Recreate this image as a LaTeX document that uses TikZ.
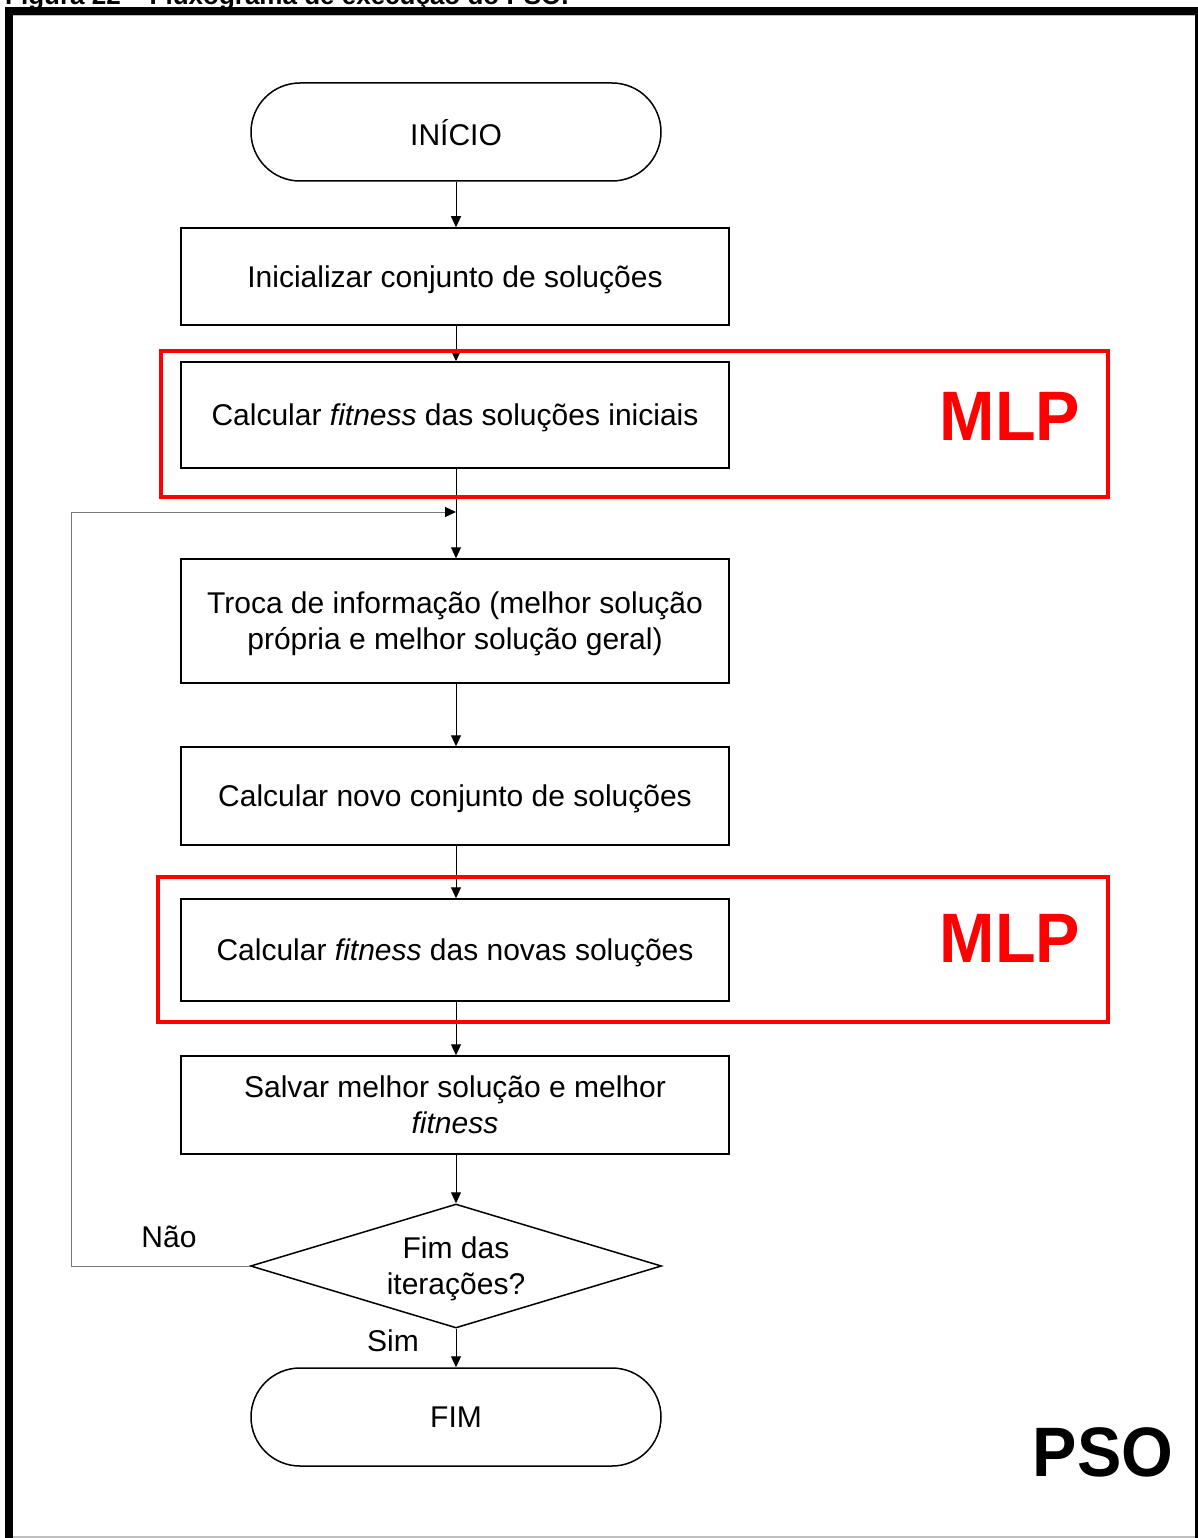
\documentclass[tikz,border=0pt]{standalone}
\usepackage{fontspec}
\setmainfont{Liberation Sans}
\usetikzlibrary{arrows.meta,shapes.geometric}
\definecolor{loopgray}{RGB}{120,120,120}
\definecolor{mlpred}{RGB}{255,0,0}
\tikzset{
  base/.style={font=\fontsize{30}{36}\selectfont, align=center, inner sep=0pt, text depth=0pt},
  procbox/.style={base, draw=black, line width=1.5pt, fill=white, minimum width=548pt},
  term/.style={base, draw=black, line width=1.5pt, fill=white, rounded corners=49pt, minimum width=410pt, minimum height=98pt},
  decis/.style={base, draw=black, line width=1.5pt, fill=white, shape=diamond, shape aspect=3.3, minimum width=411pt, minimum height=124pt},
  conn/.style={line width=1pt, black, -{Triangle[length=11pt,width=10pt]}},
  loopconn/.style={line width=1pt, loopgray, -{Triangle[length=11pt,width=10pt,color=black]}},
  redframe/.style={draw=mlpred, line width=4.5pt, inner sep=0pt},
  bigtag/.style={font=\fontsize{70}{70}\selectfont\bfseries, inner sep=0pt, xscale=0.95},
  lbl/.style={font=\fontsize{30}{36}\selectfont, inner sep=0pt}
}
\begin{document}
\begin{tikzpicture}[x=1pt,y=-1pt]
\useasboundingbox (0,0) rectangle (1198,1538);
% caption (cut off at top, as in the reference)
\node[anchor=base west, inner sep=0pt, font=\fontsize{26}{30}\selectfont\bfseries] (cap) at (5,5) {Figura 22 -- Fluxograma de execução do PSO.};
% frame
\fill[black] (5,7) rectangle (1198,15);
\fill[black] (5,7) rectangle (13,1538);
\fill[black] (1195,7) rectangle (1198,1538);
\draw[gray!50, line width=1pt] (13,15.5) -- (1195,15.5);
\draw[gray!50, line width=1.5pt] (13,1537) -- (1195,1537);

% nodes
\node[term] (start) at (456,132) {INÍCIO};
\node[procbox, minimum height=97pt] (init) at (455,276.5) {Inicializar conjunto de soluções};
\node[procbox, minimum height=106pt] (fit0) at (455,415) {Calcular \textit{fitness} das soluções iniciais};
\node[procbox, minimum height=124pt] (troca) at (455,621) {Troca de informação (melhor solução\\própria e melhor solução geral)};
\node[procbox, minimum height=98pt] (novo) at (455,796) {Calcular novo conjunto de soluções};
\node[procbox, minimum height=102pt] (fit1) at (455,950) {Calcular \textit{fitness} das novas soluções};
\node[procbox, minimum height=98pt] (salvar) at (455,1105) {Salvar melhor solução e melhor\\\textit{fitness}};
\node[decis] (dec) at (456,1266) {Fim das\\iterações?};
\node[term] (fim) at (456,1417) {FIM};

% connectors
\draw[conn] (start.south -| 456,0) -- (init.north -| 456,0);
\draw[conn] (init.south -| 456,0) -- (fit0.north -| 456,0);
\draw[conn] (fit0.south -| 456,0) -- (troca.north -| 456,0);
\draw[conn] (troca.south -| 456,0) -- (novo.north -| 456,0);
\draw[conn] (novo.south -| 456,0) -- (fit1.north -| 456,0);
\draw[conn] (fit1.south -| 456,0) -- (salvar.north -| 456,0);
\draw[conn] (salvar.south -| 456,0) -- (dec.north);
\draw[conn] (dec.south) -- (fim.north);
\coordinate (lc) at (71,512);
\coordinate (jn) at (456,512);
\draw[loopconn] (dec.west) -| (lc) -- (jn);

% red frames and tags
\node[redframe, minimum width=947pt, minimum height=146pt] (r1) at (634.5,424) {};
\node[redframe, minimum width=950pt, minimum height=145pt] (r2) at (633,949.5) {};
\node[bigtag, text=mlpred] (mlp1) at (1010,416) {MLP};
\node[bigtag, text=mlpred] (mlp2) at (1010,938) {MLP};
\node[bigtag, text=black] (pso) at (1103,1452) {PSO};

% labels
\node[lbl] (nao) at (169,1237) {Não};
\node[lbl] (sim) at (393,1341) {Sim};
\end{tikzpicture}
\end{document}
